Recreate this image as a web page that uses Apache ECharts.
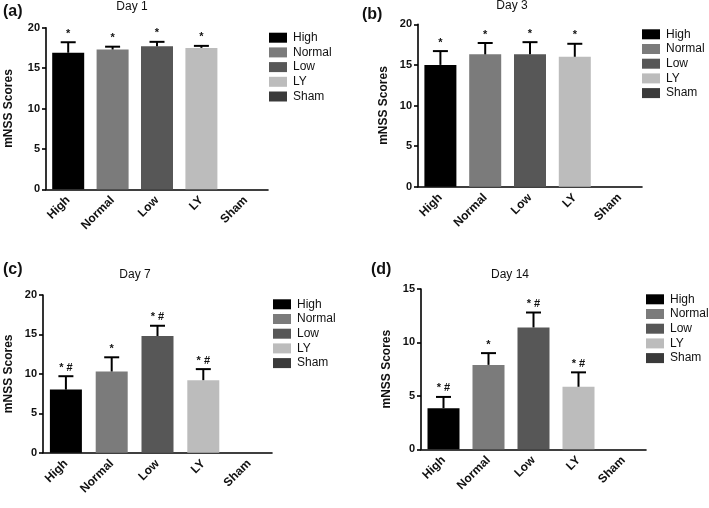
<!DOCTYPE html>
<html>
<head>
<meta charset="utf-8">
<script src="https://cdn.jsdelivr.net/npm/echarts@6/dist/echarts.min.js"></script>
<style>html,body{margin:0;padding:0;background:#fff}#c{width:709px;height:508px}</style>
</head>
<body>
<div id="c"></div>
<script>
// ---- data ----
const categories = ['High', 'Normal', 'Low', 'LY', 'Sham'];
const panelTitles = ['Day 1', 'Day 3', 'Day 7', 'Day 14'];
const panelLetters = ['(a)', '(b)', '(c)', '(d)'];
const day1Mean = [16.9, 17.3, 17.7, 17.5, null];
const day1Err  = [1.3, 0.35, 0.55, 0.25, null];
const day3Mean = [15.0, 16.3, 16.3, 16.0, null];
const day3Err  = [1.7, 1.4, 1.5, 1.6, null];
const day7Mean = [8.0, 10.3, 14.8, 9.2, null];
const day7Err  = [1.7, 1.8, 1.3, 1.4, null];
const day14Mean = [3.85, 7.9, 11.4, 5.85, null];
const day14Err  = [1.05, 1.1, 1.4, 1.35, null];
const day1Sig = ['*', '*', '*', '*', ''];
const day3Sig = ['*', '*', '*', '*', ''];
const day7Sig = ['* #', '*', '* #', '* #', ''];
const day14Sig = ['* #', '*', '* #', '* #', ''];
const yMax = [20, 20, 20, 15];
const yTicks = 5;

const means = [day1Mean, day3Mean, day7Mean, day14Mean];
const errs = [day1Err, day3Err, day7Err, day14Err];
const sigs = [day1Sig, day3Sig, day7Sig, day14Sig];

// ---- styling / layout ----
const colors = ['#000000', '#7b7b7b', '#575757', '#bcbcbc', '#3a3a3a'];
const FONT = "'Liberation Sans', Arial, sans-serif";
const layout = [
  {left: 46, top: 27.7, width: 222, height: 161.6, legL: 269, legT: 31.7, titleX: 132, titleY: 1, letX: 3, letY: 4, nameGap: 31},
  {left: 418, top: 24.3, width: 224, height: 162.4, legL: 642, legT: 28.3, titleX: 512, titleY: 0, letX: 362, letY: 7, nameGap: 28},
  {left: 43, top: 295, width: 229, height: 157.7, legL: 273, legT: 298.3, titleX: 135, titleY: 269, letX: 3, letY: 262, nameGap: 28},
  {left: 421, top: 289, width: 225, height: 160.3, legL: 646, legT: 293.3, titleX: 510, titleY: 269, letX: 371, letY: 262, nameGap: 28}
];

const grid = [], xAxis = [], yAxis = [], legend = [], title = [], series = [];

layout.forEach((L, p) => {
  grid.push({left: L.left, top: L.top, width: L.width, height: L.height, containLabel: false});
  xAxis.push({
    type: 'category', gridIndex: p, data: categories,
    axisLine: {lineStyle: {color: '#000', width: 1.6}},
    axisTick: {alignWithLabel: true, length: 5, lineStyle: {color: '#000', width: 1.6}},
    axisLabel: {rotate: 45, fontFamily: FONT, fontWeight: 'bold', fontSize: 12, color: '#111', margin: 9, interval: 0}
  });
  yAxis.push({
    type: 'value', gridIndex: p, min: 0, max: yMax[p], interval: yTicks,
    name: 'mNSS Scores', nameLocation: 'middle', nameGap: L.nameGap,
    nameTextStyle: {fontFamily: FONT, fontWeight: 'bold', fontSize: 12, color: '#111'},
    axisLine: {show: true, lineStyle: {color: '#000', width: 1.6}},
    axisTick: {show: true, length: 4, lineStyle: {color: '#000', width: 1.6}},
    axisLabel: {fontFamily: FONT, fontWeight: 'bold', fontSize: 11, color: '#111', margin: 6},
    splitLine: {show: false}
  });
  legend.push({
    orient: 'vertical', left: L.legL, top: L.legT, icon: 'rect', padding: 0,
    itemWidth: 18, itemHeight: 10, itemGap: 2.7,
    data: categories.map((c, i) => ({name: c, itemStyle: {color: colors[i]}})),
    textStyle: {fontFamily: FONT, fontSize: 12, lineHeight: 12, color: '#111', padding: [0, 0, 0, 1]},
    selectedMode: false
  });
  title.push({
    text: panelTitles[p], left: L.titleX, top: L.titleY, textAlign: 'center', padding: 0,
    textStyle: {fontFamily: FONT, fontSize: 12, fontWeight: 'normal', color: '#111'}
  });
  title.push({
    text: panelLetters[p], left: L.letX, top: L.letY, padding: 0,
    textStyle: {fontFamily: FONT, fontSize: 16, fontWeight: 'bold', color: '#111'}
  });
  categories.forEach((c, i) => {
    series.push({
      type: 'bar', name: c, xAxisIndex: p, yAxisIndex: p,
      barWidth: 32, barGap: '-100%',
      itemStyle: {color: colors[i]},
      data: categories.map((_, j) => (j === i && means[p][j] != null) ? means[p][j] : '-'),
      silent: true
    });
  });
  const m = means[p], e = errs[p], s = sigs[p];
  series.push({
    type: 'custom', xAxisIndex: p, yAxisIndex: p, silent: true, z: 5,
    data: m.map((v, j) => v == null ? null : [j, v, v + e[j]]).filter(d => d),
    renderItem: function (params, api) {
      const idx = api.value(0);
      const base = api.coord([idx, api.value(1)]);
      const top = api.coord([idx, api.value(2)]);
      const cap = 7.5;
      return {
        type: 'group',
        children: [
          {type: 'line', shape: {x1: base[0], y1: base[1], x2: top[0], y2: top[1]}, style: {stroke: '#000', lineWidth: 2}},
          {type: 'line', shape: {x1: top[0] - cap, y1: top[1], x2: top[0] + cap, y2: top[1]}, style: {stroke: '#000', lineWidth: 2}},
          {type: 'text', style: {text: s[idx], x: top[0], y: top[1] - 3, textAlign: 'center', textVerticalAlign: 'bottom', fontFamily: FONT, fontSize: 11, fontWeight: 'bold', fill: '#111'}}
        ]
      };
    }
  });
});

const chart = echarts.init(document.getElementById('c'), null, {renderer: 'canvas'});
chart.setOption({
  backgroundColor: '#fff',
  animation: false,
  title, grid, xAxis, yAxis, legend, series
});
</script>
</body>
</html>
